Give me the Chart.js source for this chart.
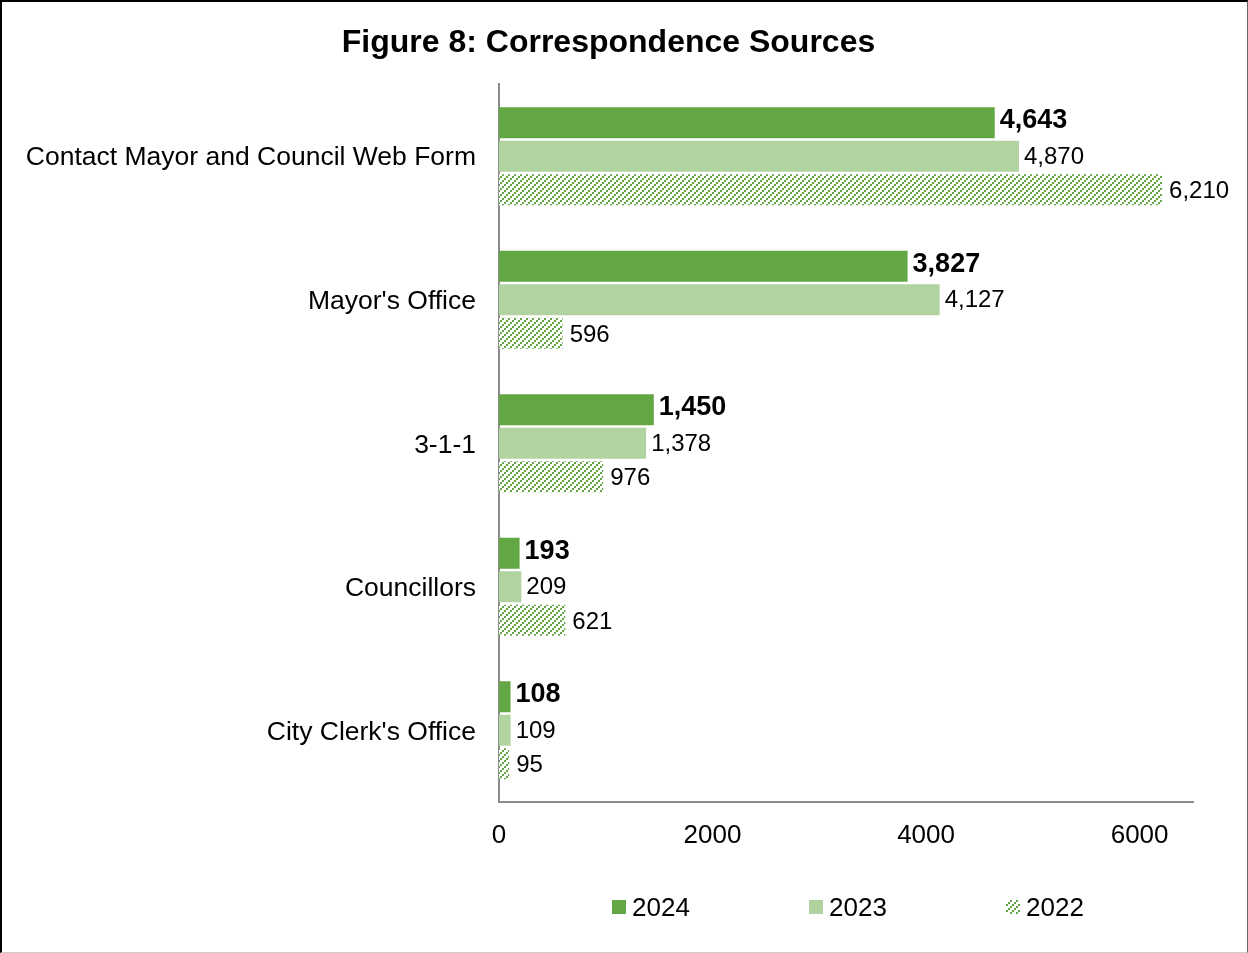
<!DOCTYPE html>
<html>
<head>
<meta charset="utf-8">
<title>Figure 8: Correspondence Sources</title>
<script src="https://cdn.jsdelivr.net/npm/chart.js@4/dist/chart.umd.min.js"></script>
<style>
  body { margin: 0; background: #fff; }
  #wrap { position: relative; width: 1248px; height: 953px; }
  #frame {
    position: absolute; left: 0; top: 0; right: 0; bottom: 0;
    border-top: 2px solid #000; border-left: 2px solid #000;
    border-right: 1px solid #666; border-bottom: 1px solid #ccc;
    pointer-events: none;
  }
  #legend {
    position: absolute; left: 612px; top: 892px; display: flex;
    font-family: 'Liberation Sans', Arial, sans-serif; font-size: 26px; color: #000;
  }
  .item { width: 197px; display: flex; align-items: center; line-height: 30px; }
  .swatch { width: 14px; height: 14px; margin-right: 6px; display: block; }
</style>
</head>
<body>
<div id="wrap">
  <canvas id="chart" width="1248" height="953"></canvas>
  <div id="legend"></div>
  <div id="frame"></div>
</div>
<script>
// Correspondence by source, three years
const categories = [
  'Contact Mayor and Council Web Form',
  "Mayor's Office",
  '3-1-1',
  'Councillors',
  "City Clerk's Office"
];
const seriesLabels = ['2024', '2023', '2022'];
const values2024 = [4643, 3827, 1450, 193, 108];
const values2023 = [4870, 4127, 1378, 209, 109];
const values2022 = [6210, 596, 976, 621, 95];
const xTicks = [0, 2000, 4000, 6000];

const DARK = '#63a745';
const LIGHT = '#b0d3a0';
const FONT = "'Liberation Sans', Arial, sans-serif";

// diagonal dashed hatch for the oldest year
function makeHatch() {
  const c = document.createElement('canvas');
  c.width = 6; c.height = 6;
  const g = c.getContext('2d');
  g.fillStyle = '#fff';
  g.fillRect(0, 0, 6, 6);
  g.fillStyle = DARK;
  g.fillRect(4, 0, 2, 2);
  g.fillRect(2, 2, 2, 2);
  g.fillRect(0, 4, 2, 2);
  return c;
}
const hatchTile = makeHatch();
const ctx = document.getElementById('chart').getContext('2d');
const hatch = ctx.createPattern(hatchTile, 'repeat');

const fills = [DARK, LIGHT, hatch];
const seriesValues = [values2024, values2023, values2022];

// value labels at the end of each bar
const barLabels = {
  id: 'barLabels',
  afterDatasetsDraw(chart) {
    const c = chart.ctx;
    c.save();
    c.textBaseline = 'middle';
    c.textAlign = 'left';
    c.fillStyle = '#000';
    chart.data.datasets.forEach((ds, i) => {
      const meta = chart.getDatasetMeta(i);
      c.font = i === 0 ? `bold 27px ${FONT}` : `24px ${FONT}`;
      const gap = i === 2 ? 7 : 5;
      const dy = i === 0 ? -2 : (i === 2 ? 2 : 1);
      meta.data.forEach((bar, j) => {
        c.fillText(ds.data[j].toLocaleString('en-US'), bar.x + gap, bar.y + dy);
      });
    });
    c.restore();
  }
};

new Chart(ctx, {
  type: 'bar',
  data: {
    labels: categories,
    datasets: seriesLabels.map((label, i) => ({
      label,
      data: seriesValues[i],
      backgroundColor: fills[i],
      borderWidth: 0,
      categoryPercentage: 0.70,
      barPercentage: 0.925
    }))
  },
  options: {
    indexAxis: 'y',
    responsive: false,
    animation: false,
    layout: { padding: { left: 24, right: 55, top: 0, bottom: 100 } },
    plugins: {
      legend: { display: false },
      tooltip: { enabled: false },
      title: {
        display: true,
        text: 'Figure 8: Correspondence Sources',
        color: '#000',
        font: { family: FONT, size: 32, weight: 'bold' },
        padding: { top: 24, bottom: 22 }
      }
    },
    scales: {
      x: {
        type: 'linear',
        min: 0,
        max: 6500,
        afterBuildTicks: (scale) => { scale.ticks = xTicks.map(v => ({ value: v })); },
        afterFit: (scale) => { scale.height = 51; },
        grid: { display: false, drawTicks: false },
        border: { display: true, color: '#8c8c8c', width: 2 },
        ticks: {
          color: '#000',
          font: { family: FONT, size: 26 },
          padding: 18,
          maxRotation: 0,
          callback: (v) => String(v)
        }
      },
      y: {
        afterFit: (scale) => { scale.width = 475; },
        grid: { display: false, drawTicks: false },
        border: { display: true, color: '#8c8c8c', width: 2 },
        ticks: { color: '#000', font: { family: FONT, size: 26.5 }, padding: 23, labelOffset: 2 }
      }
    }
  },
  plugins: [barLabels]
});

// legend row
const legend = document.getElementById('legend');
seriesLabels.forEach((label, i) => {
  const item = document.createElement('div');
  item.className = 'item';
  const sw = document.createElement('canvas');
  sw.className = 'swatch';
  sw.width = 14; sw.height = 14;
  const sctx = sw.getContext('2d');
  sctx.fillStyle = i === 2 ? sctx.createPattern(hatchTile, 'repeat') : fills[i];
  sctx.fillRect(0, 0, 14, 14);
  item.appendChild(sw);
  item.appendChild(document.createTextNode(label));
  legend.appendChild(item);
});
</script>
</body>
</html>
